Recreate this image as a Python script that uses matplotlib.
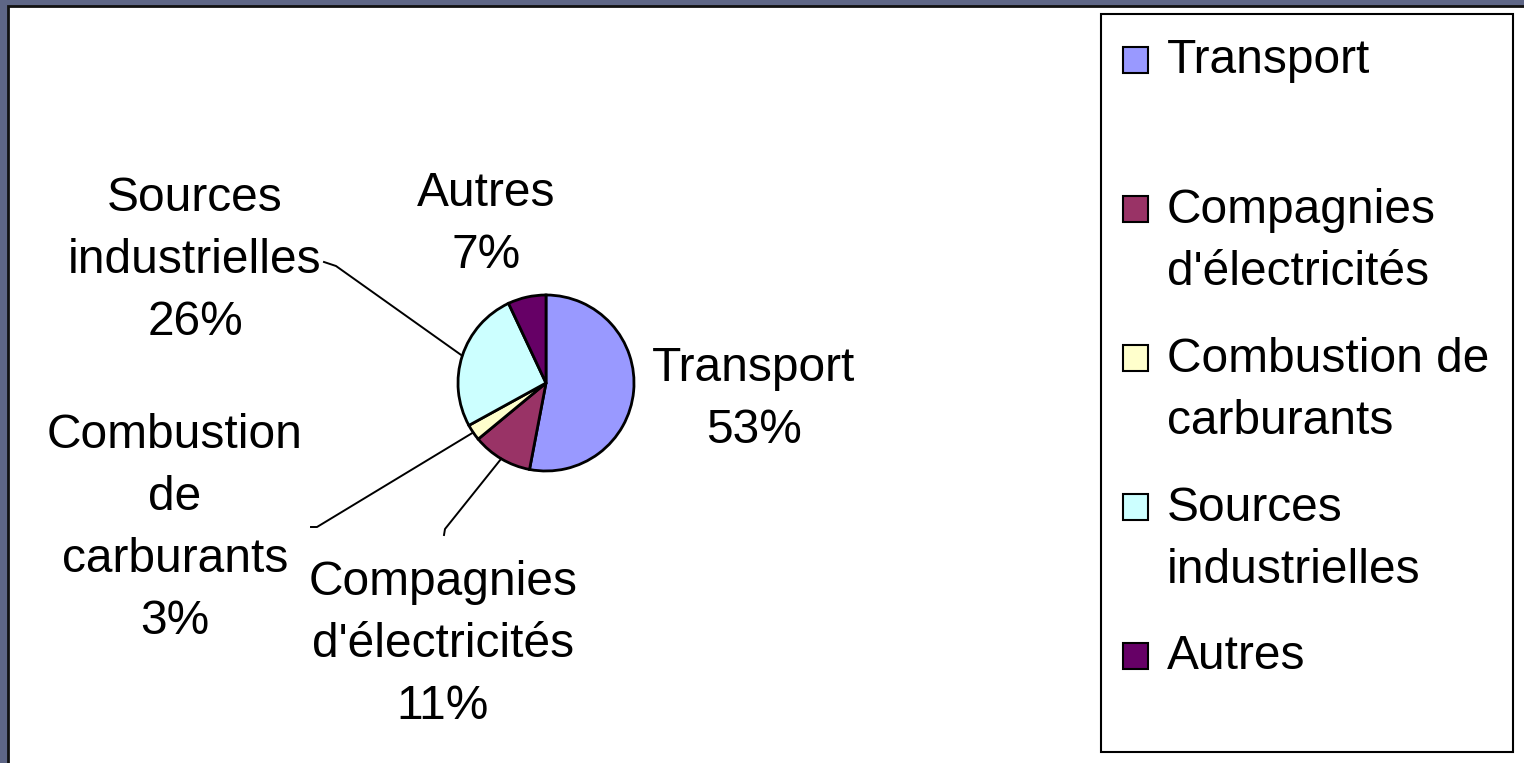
import numpy as np
import matplotlib.pyplot as plt
from matplotlib.patches import Rectangle

# Sources of emissions (%)
sectors = ["Transport", "Compagnies\nd'électricités", "Combustion\nde\ncarburants",
           "Sources\nindustrielles", "Autres"]
legend_labels = ["Transport", "Compagnies\nd'électricités", "Combustion de\ncarburants",
                 "Sources\nindustrielles", "Autres"]
shares = [53, 11, 3, 26, 7]
colors = ["#9999FF", "#993366", "#FFFFCC", "#CCFFFF", "#660066"]

W, H = 1524, 763
FONT = "Liberation Sans"
FS = 34.5
STEP = 63  # px between lines
LSP = 1.49


def py(y):
    # pixel row (from top) -> axes y
    return H - y


def put_text(ax, x, first_baseline, s, ha, **kw):
    # va='baseline' pins the last line, so shift by the number of lines
    n = s.count("\n")
    ax.text(x, py(first_baseline + n * STEP), s, ha=ha, va="baseline",
            family=FONT, fontsize=FS, linespacing=LSP, multialignment=ha, **kw)


def main():
    fig = plt.figure(figsize=(W / 100, H / 100), dpi=100, facecolor="#5e6686")
    ax = fig.add_axes([0, 0, 1, 1])
    ax.set_axis_off()

    # white chart area with dark border
    ax.add_patch(Rectangle((8, -10), W, py(6) + 10, facecolor="white",
                           edgecolor="#111111", lw=2.0, zorder=0))

    # pie
    cx, cy, r = 546, 383, 88
    wedges, _ = ax.pie(shares, colors=colors, startangle=90, counterclock=False,
                       center=(cx, py(cy)), radius=r, frame=True,
                       wedgeprops=dict(edgecolor="black", linewidth=2.0))
    ax.set_xlim(0, W)
    ax.set_ylim(0, H)
    ax.set_aspect("auto")

    # pie labels (x center, baseline of first line)
    label_pos = [(754, 380), (443, 593), (175, 445), (195, 209), (486, 205)]
    for name, val, (lx, ly) in zip(sectors, shares, label_pos):
        put_text(ax, lx, ly, f"{name}\n{val}%", "center")

    # leader lines (text end -> wedge edge)
    leader_start = {1: [(444, 535), (445, 529)],
                    2: [(311, 527), (317, 527)],
                    3: [(324, 262), (336, 266)]}
    for i, pts in leader_start.items():
        w = wedges[i]
        mid = np.deg2rad((w.theta1 + w.theta2) / 2)
        ex, ey = cx + r * np.cos(mid), py(cy) + r * np.sin(mid)
        xs = [p[0] for p in pts] + [ex]
        ys = [py(p[1]) for p in pts] + [ey]
        ax.plot(xs, ys, color="black", lw=1.4, zorder=3)

    # legend box
    ax.add_patch(Rectangle((1101, py(752)), 412, 738, facecolor="white",
                           edgecolor="black", lw=1.5, zorder=1))
    for i, (lab, col) in enumerate(zip(legend_labels, colors)):
        my = 60 + i * 149
        ax.add_patch(Rectangle((1123, py(my) - 13), 25, 26, facecolor=col,
                               edgecolor="black", lw=1.5, zorder=2))
        put_text(ax, 1167, my + 13, lab, "left", zorder=2)

    fig.savefig("out.png", dpi=100, facecolor=fig.get_facecolor())


if __name__ == "__main__":
    main()
